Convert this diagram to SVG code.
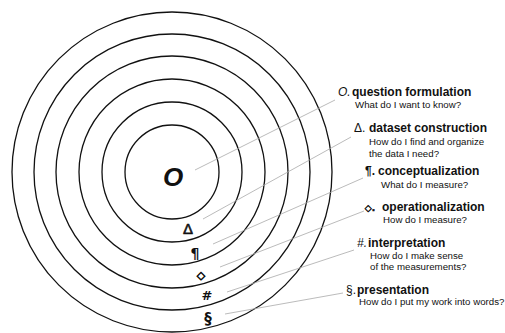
<svg xmlns="http://www.w3.org/2000/svg" width="505" height="333" viewBox="0 0 505 333">
<style>
.ring{fill:none;stroke:#111;stroke-width:1.3}
.lead{stroke:#aaa;stroke-width:0.8;fill:none}
.t{font-family:"Liberation Sans",Arial,sans-serif;font-size:12px;font-weight:bold;fill:#111}
.s{font-family:"Liberation Sans",Arial,sans-serif;font-size:9.7px;fill:#111}
.sym{font-family:"DejaVu Sans",sans-serif;font-weight:bold;fill:#111;text-anchor:middle}
.p{font-family:"Liberation Sans",Arial,sans-serif;font-size:12px;fill:#111}
</style>
<rect width="505" height="333" fill="#fff"/>
<g id="rings">
<circle class="ring" cx="172" cy="172" r="47"/>
<circle class="ring" cx="172" cy="172" r="70"/>
<circle class="ring" cx="172" cy="172" r="93"/>
<circle class="ring" cx="172" cy="172" r="116"/>
<circle class="ring" cx="172" cy="172" r="138"/>
<circle class="ring" cx="172" cy="172" r="160"/>
</g>
<g id="connectors">
<line class="lead" x1="195" y1="170" x2="335" y2="100"/>
<line class="lead" x1="203" y1="219" x2="351" y2="137"/>
<line class="lead" x1="213" y1="244" x2="363" y2="178"/>
<line class="lead" x1="220" y1="267" x2="364" y2="211"/>
<line class="lead" x1="227" y1="292" x2="354" y2="250"/>
<line class="lead" x1="225" y1="314" x2="343" y2="293"/>
</g>
<g id="n1">
<text x="173" y="186" font-family="'Liberation Sans',Arial,sans-serif" font-size="26" font-style="italic" font-weight="bold" text-anchor="middle" fill="#111">O</text>
<text x="338" y="96" class="p" font-style="italic">O.</text>
<text x="352" y="96" class="t">question formulation</text>
<text x="355" y="108" class="s">What do I want to know?</text>
</g>
<g id="n2">
<text x="188" y="234" font-family="'Liberation Sans',Arial,sans-serif" font-size="15" text-anchor="middle" fill="#111" stroke="#111" stroke-width="0.6">Δ</text>
<text x="354" y="132" class="p">Δ.</text>
<text x="369" y="132" class="t">dataset construction</text>
<text x="369" y="145" class="s">How do I find and organize</text>
<text x="369" y="157" class="s">the data I need?</text>
</g>
<g id="n3">
<text x="195" y="258" class="sym" font-size="14">¶</text>
<text x="365" y="175" class="p" font-weight="bold">¶.</text>
<text x="378" y="175" class="t">conceptualization</text>
<text x="381" y="188" class="s">What do I measure?</text>
</g>
<g id="n4">
<text x="201" y="279" class="sym" font-size="11" stroke="#111" stroke-width="0.7">◇</text>
<text x="370" y="211" class="sym" font-size="9" text-anchor="start" stroke="#111" stroke-width="0.5">◇.</text>
<text x="382" y="211" class="t">operationalization</text>
<text x="383" y="223" class="s">How do I measure?</text>
</g>
<g id="n5">
<text x="207" y="300" class="sym" font-size="13">#</text>
<text x="357" y="247" class="p" font-style="italic">#.</text>
<text x="368" y="247" class="t">interpretation</text>
<text x="370" y="259" class="s">How do I make sense</text>
<text x="370" y="270" class="s">of the measurements?</text>
</g>
<g id="n6">
<text x="208" y="324" class="sym" font-size="15">§</text>
<text x="346" y="294" class="p">§.</text>
<text x="357" y="294" class="t">presentation</text>
<text x="359" y="305" class="s">How do I put my work into words?</text>
</g>
</svg>
